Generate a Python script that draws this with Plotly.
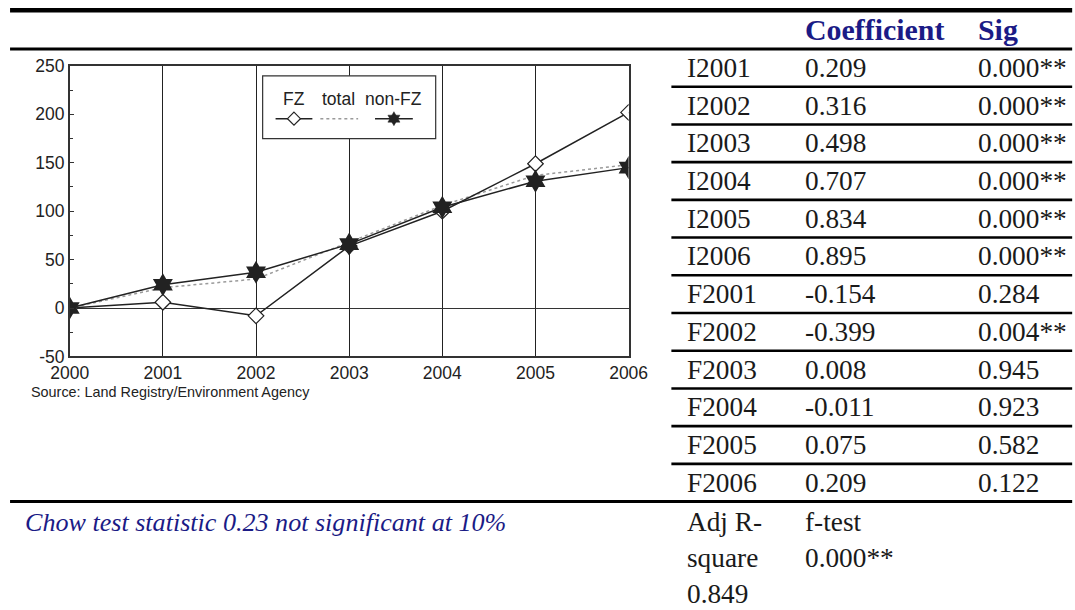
import plotly.graph_objects as go

W, H = 1075, 610

# Index values by year (2000 = 0)
years = [2000, 2001, 2002, 2003, 2004, 2005, 2006]
fz = [0, 6, -8, 64, 100, 149, 202]
total = [0, 21, 30, 68, 106, 137, 148]
non_fz = [0, 24, 37, 66, 104, 131, 145]
y_ticks = [-50, 0, 50, 100, 150, 200, 250]

# Regression table
terms = ["I2001", "I2002", "I2003", "I2004", "I2005", "I2006",
         "F2001", "F2002", "F2003", "F2004", "F2005", "F2006"]
coefficients = ["0.209", "0.316", "0.498", "0.707", "0.834", "0.895",
                "-0.154", "-0.399", "0.008", "-0.011", "0.075", "0.209"]
significance = ["0.000**", "0.000**", "0.000**", "0.000**", "0.000**", "0.000**",
                "0.284", "0.004**", "0.945", "0.923", "0.582", "0.122"]
table_header = ["Coefficient", "Sig"]
footer_left = ["Adj R-", "square", "0.849"]
footer_mid = ["f-test", "0.000**"]
chow_note = "Chow test statistic 0.23 not significant at 10%"
source_note = "Source: Land Registry/Environment Agency"

DARK = "#222222"
NAVY = "#1b1b86"
SANS = "Liberation Sans, Arial, sans-serif"
SERIF = "Liberation Serif, Times New Roman, serif"

# Layout positions below are page pixels; the figure is shown slightly inset
# and scaled on the page, so they are converted to paper fractions here.
SX, OX = 0.970, 16.0
SY, OY = 0.972, 7.8


def px(x):
    return (x - OX) / SX / W


def py(y):
    return 1 - (y - OY) / SY / H


def fs(size):
    return round(size / SX, 1)


# plot area in page pixels
PX0, PX1, PY0, PY1 = 67, 629, 64, 356

fig = go.Figure()
fig.add_trace(go.Scatter(x=years, y=total, mode="lines", name="total",
                         line=dict(color="#9a9a9a", width=1.5, dash="dot")))
fig.add_trace(go.Scatter(x=years, y=fz, mode="lines+markers", name="FZ",
                         line=dict(color=DARK, width=1.5),
                         marker=dict(symbol="diamond", size=12, color="white",
                                     line=dict(color=DARK, width=1.2))))
fig.add_trace(go.Scatter(x=years, y=non_fz, mode="lines+markers", name="non-FZ",
                         line=dict(color=DARK, width=1.5),
                         marker=dict(symbol="hexagram", size=17.5, color=DARK,
                                     line=dict(width=0))))

shapes = []
annotations = []

# legend box with samples drawn above the grid
LX0, LX1, LY0, LY1 = 261, 435, 74, 137
shapes.append(dict(type="rect", xref="paper", yref="paper",
                   x0=px(LX0), x1=px(LX1), y0=py(LY1), y1=py(LY0),
                   fillcolor="white", line=dict(color="#333333", width=1.2),
                   layer="above"))
sample_y = 117
legend_items = [("FZ", 292.5, 274, 311, "solid", DARK),
                ("total", 337, 319, 357, "dot", "#9a9a9a"),
                ("non-FZ", 393, 374, 412, "solid", DARK)]
for label, cx, lx0, lx1, dash, col in legend_items:
    shapes.append(dict(type="line", xref="paper", yref="paper",
                       x0=px(lx0), x1=px(lx1), y0=py(sample_y), y1=py(sample_y),
                       line=dict(color=col, width=1.5, dash=dash), layer="above"))
    annotations.append(dict(text=label, x=px(cx), y=py(97), xref="paper", yref="paper",
                            xanchor="center", yanchor="middle", showarrow=False,
                            font=dict(family=SANS, size=fs(17), color=DARK)))

# diamond sample
r = 6.5
cx = 292.5
diamond = "M {} {} L {} {} L {} {} L {} {} Z".format(
    px(cx), py(sample_y - r), px(cx + r), py(sample_y),
    px(cx), py(sample_y + r), px(cx - r), py(sample_y))
shapes.append(dict(type="path", xref="paper", yref="paper", path=diamond,
                   fillcolor="white", line=dict(color=DARK, width=1.2), layer="above"))

# hexagram sample
cx, rr = 393, 7
s3 = 3 ** 0.5
tri1 = [(cx, sample_y - rr), (cx + rr * s3 / 2, sample_y + rr / 2), (cx - rr * s3 / 2, sample_y + rr / 2)]
tri2 = [(cx, sample_y + rr), (cx + rr * s3 / 2, sample_y - rr / 2), (cx - rr * s3 / 2, sample_y - rr / 2)]
for tri in (tri1, tri2):
    path = "M " + " L ".join("{} {}".format(px(a), py(b)) for a, b in tri) + " Z"
    shapes.append(dict(type="path", xref="paper", yref="paper", path=path,
                       fillcolor=DARK, line=dict(color=DARK, width=0.5), layer="above"))

# source note under the chart
annotations.append(dict(text=source_note, x=px(26), y=py(392), xref="paper", yref="paper",
                        xanchor="left", yanchor="middle", showarrow=False,
                        font=dict(family=SANS, size=fs(14), color=DARK)))

# table rules
RULE_L, RULE_R = 7, 1075
TOP_RULE, HEAD_RULE = 8, 47
ROW_H = 37.9
ROW_X0 = 672
bottom_rule = HEAD_RULE + ROW_H * len(terms)

shapes.append(dict(type="line", xref="paper", yref="paper", x0=px(RULE_L), x1=px(RULE_R),
                   y0=py(TOP_RULE), y1=py(TOP_RULE), line=dict(color="black", width=4.5)))
shapes.append(dict(type="line", xref="paper", yref="paper", x0=px(RULE_L), x1=px(RULE_R),
                   y0=py(HEAD_RULE), y1=py(HEAD_RULE), line=dict(color="black", width=3)))
for i in range(1, len(terms)):
    yy = HEAD_RULE + ROW_H * i
    shapes.append(dict(type="line", xref="paper", yref="paper", x0=px(ROW_X0), x1=px(RULE_R),
                       y0=py(yy), y1=py(yy), line=dict(color="black", width=2.6)))
shapes.append(dict(type="line", xref="paper", yref="paper", x0=px(RULE_L), x1=px(RULE_R),
                   y0=py(bottom_rule), y1=py(bottom_rule), line=dict(color="black", width=3)))

COL_TERM, COL_COEF, COL_SIG = 686, 804, 978
TXT = dict(family=SERIF, size=fs(26.5), color="#1a1a1a")

for txt, xx in zip(table_header, (COL_COEF, COL_SIG)):
    annotations.append(dict(text="<b>" + txt + "</b>", x=px(xx), y=py(27),
                            xref="paper", yref="paper", xanchor="left", yanchor="middle",
                            showarrow=False, font=dict(family=SERIF, size=fs(29), color=NAVY)))

for i, (t, c, s) in enumerate(zip(terms, coefficients, significance)):
    yc = HEAD_RULE + ROW_H * (i + 0.5)
    for txt, xx in ((t, COL_TERM), (c, COL_COEF), (s, COL_SIG)):
        annotations.append(dict(text=txt, x=px(xx), y=py(yc), xref="paper", yref="paper",
                                xanchor="left", yanchor="middle", showarrow=False, font=TXT))

# footer
FOOT_Y0, FOOT_DY = bottom_rule + 21, 35.8
annotations.append(dict(text="<i>" + chow_note + "</i>", x=px(20), y=py(FOOT_Y0),
                        xref="paper", yref="paper", xanchor="left", yanchor="middle",
                        showarrow=False, font=dict(family=SERIF, size=fs(25.3), color=NAVY)))
for i, txt in enumerate(footer_left):
    annotations.append(dict(text=txt, x=px(COL_TERM), y=py(FOOT_Y0 + FOOT_DY * i),
                            xref="paper", yref="paper", xanchor="left", yanchor="middle",
                            showarrow=False, font=TXT))
for i, txt in enumerate(footer_mid):
    annotations.append(dict(text=txt, x=px(COL_COEF), y=py(FOOT_Y0 + FOOT_DY * i),
                            xref="paper", yref="paper", xanchor="left", yanchor="middle",
                            showarrow=False, font=TXT))

fig.update_layout(
    width=W, height=H, autosize=False,
    margin=dict(l=0, r=0, t=0, b=0),
    paper_bgcolor="white", plot_bgcolor="white",
    showlegend=False,
    shapes=shapes, annotations=annotations,
    xaxis=dict(domain=[px(PX0), px(PX1)], range=[2000, 2006], tickvals=years,
               showgrid=True, gridcolor=DARK, gridwidth=1, zeroline=False,
               showline=True, mirror=True, linecolor="#333333", linewidth=1.5,
               ticks="", ticklabelstandoff=0,
               tickfont=dict(family=SANS, size=fs(17), color=DARK)),
    yaxis=dict(domain=[py(PY1), py(PY0)], range=[-50, 250], tickvals=y_ticks,
               ticktext=[str(v) for v in y_ticks],
               showgrid=False, zeroline=True, zerolinecolor="#333333", zerolinewidth=1,
               showline=True, mirror=True, linecolor="#333333", linewidth=1.5,
               ticks="inside", ticklen=5, tickcolor="#333333",
               minor=dict(ticks="inside", ticklen=4, dtick=25, tick0=0, tickcolor="#333333"),
               tickfont=dict(family=SANS, size=fs(17), color=DARK)),
)

fig.write_html("out.html")
